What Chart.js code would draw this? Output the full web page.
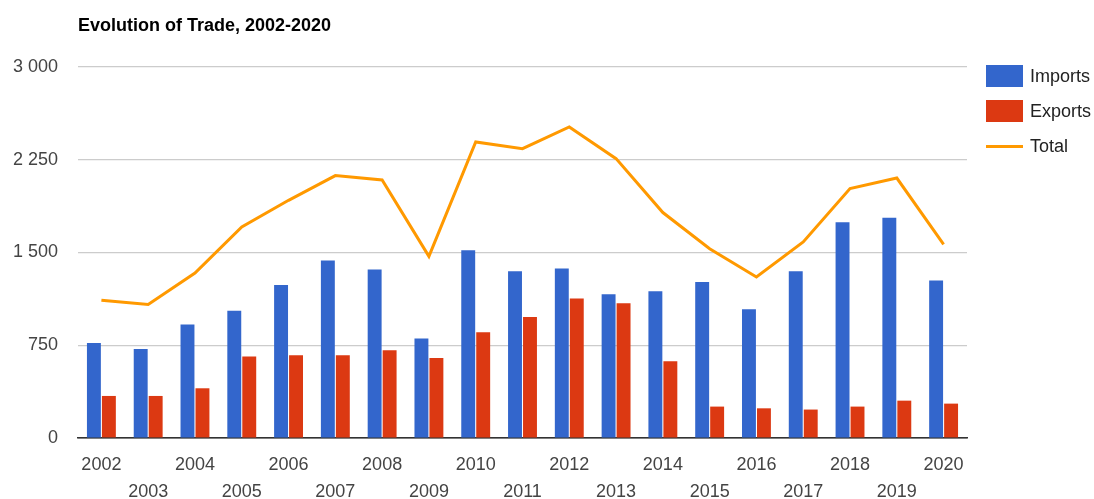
<!DOCTYPE html>
<html>
<head>
<meta charset="utf-8">
<script src="https://cdn.jsdelivr.net/npm/chart.js@4.4.1/dist/chart.umd.min.js"></script>
<style>
  html, body { margin: 0; padding: 0; background: #fff; }
  #wrap { position: relative; width: 1094px; height: 499px; font-family: Arial, "Liberation Sans", sans-serif; }
  #title { position: absolute; left: 78px; top: 15px; font-size: 18px; font-weight: bold; color: #000; white-space: nowrap; }
  #legend { position: absolute; left: 986px; top: 65px; }
  .item { position: relative; height: 35px; font-size: 18px; color: #222; }
  .item .sw { position: absolute; left: 0; top: 0; width: 37px; height: 22px; }
  .item .ln { position: absolute; left: 0; top: 10px; width: 37px; height: 2.5px; }
  .item span { position: absolute; left: 44px; top: 0; line-height: 22px; }
</style>
</head>
<body>
<div id="wrap">
  <canvas id="trade_chart" width="1094" height="499"></canvas>
  <div id="title">Evolution of Trade, 2002-2020</div>
  <div id="legend"></div>
</div>
<script>
// trade values by year
const years = ['2002', '2003', '2004', '2005', '2006', '2007', '2008', '2009', '2010', '2011',
  '2012', '2013', '2014', '2015', '2016', '2017', '2018', '2019', '2020'];
const imports = [769, 720, 918, 1028, 1238, 1435, 1362, 804, 1519, 1349,
  1370, 1162, 1187, 1262, 1041, 1349, 1744, 1780, 1273];
const exports = [340, 340, 402, 659, 669, 669, 710, 647, 855, 979,
  1128, 1090, 620, 254, 240, 230, 254, 302, 278];
const totals = [1113, 1079, 1334, 1706, 1922, 2122, 2086, 1469, 2394, 2340,
  2515, 2259, 1823, 1531, 1302, 1585, 2017, 2102, 1566];
const yTicks = [0, 750, 1500, 2250, 3000];

const colors = { imports: '#3366cc', exports: '#dc3912', total: '#ff9900' };

function fmtThousands(v) {
  return String(v).replace(/\B(?=(\d{3})+(?!\d))/g, ' ');
}

function buildLegend() {
  const el = document.getElementById('legend');
  [['Imports', colors.imports, 'sw'], ['Exports', colors.exports, 'sw'], ['Total', colors.total, 'ln']]
    .forEach(([name, col, cls]) => {
      const item = document.createElement('div');
      item.className = 'item';
      item.innerHTML = `<div class="${cls}" style="background:${col}"></div><span>${name}</span>`;
      el.appendChild(item);
    });
}

function createChart() {
  const ctx = document.getElementById('trade_chart').getContext('2d');
  return new Chart(ctx, {
    data: {
      labels: years,
      datasets: [
        {
          type: 'line',
          label: 'Total',
          data: totals,
          borderColor: colors.total,
          borderWidth: 3,
          pointRadius: 0,
          tension: 0,
          order: 0,
        },
        {
          type: 'bar',
          label: 'Imports',
          data: imports,
          backgroundColor: colors.imports,
          categoryPercentage: 0.64,
          barPercentage: 0.93,
          order: 1,
        },
        {
          type: 'bar',
          label: 'Exports',
          data: exports,
          backgroundColor: colors.exports,
          categoryPercentage: 0.64,
          barPercentage: 0.93,
          order: 1,
        },
      ],
    },
    options: {
      responsive: false,
      animation: false,
      layout: { padding: { left: 0, right: 127, top: 67, bottom: 0 } },
      plugins: {
        legend: { display: false },
        tooltip: { enabled: false },
      },
      scales: {
        x: {
          grid: { display: false, drawTicks: false },
          border: { color: '#333', width: 1.5 },
          ticks: {
            autoSkip: false,
            maxRotation: 0,
            padding: 14,
            color: '#444',
            font: { family: 'Arial, "Liberation Sans", sans-serif', size: 18, lineHeight: 1.5 },
            // odd years go on a second row
            callback: function (v, i) {
              const l = this.getLabelForValue(v);
              return i % 2 ? ['', l] : l;
            },
          },
          afterFit: (s) => { s.height = 61; },
        },
        y: {
          min: 0,
          max: 3000,
          afterBuildTicks: (s) => { s.ticks = yTicks.map(v => ({ value: v })); },
          grid: {
            drawTicks: false,
            color: (c) => c.tick && c.tick.value === 0 ? '#333' : '#ccc',
            lineWidth: 1.2,
          },
          border: { display: false },
          ticks: {
            padding: 20,
            color: '#444',
            font: { family: 'Arial, "Liberation Sans", sans-serif', size: 18 },
            callback: (v) => fmtThousands(v),
          },
          afterFit: (s) => { s.width = 78; },
        },
      },
    },
  });
}

buildLegend();
createChart();
</script>
</body>
</html>
